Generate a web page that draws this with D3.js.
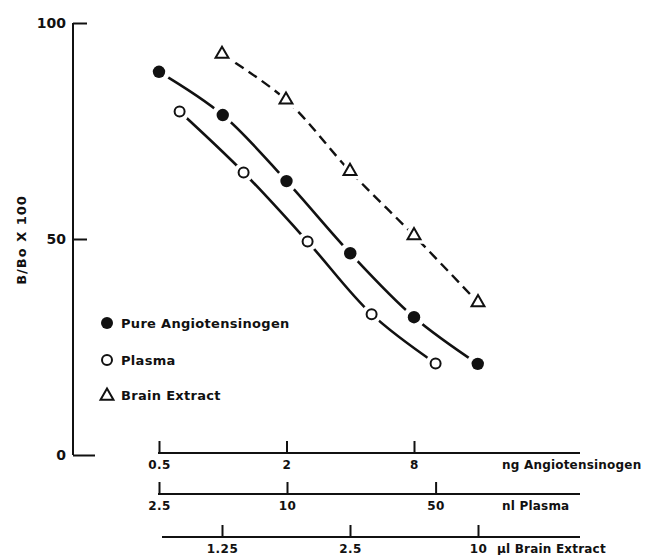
<!DOCTYPE html>
<html>
<head>
<meta charset="utf-8">
<script src="https://cdn.jsdelivr.net/npm/d3@7"></script>
<style>
  body { margin: 0; background: #fff; }
  text { font-family: "DejaVu Sans", sans-serif; font-weight: bold; fill: #111; }
</style>
</head>
<body>
<div id="chart"></div>
<script>
// data
const ngDose      = [0.5, 1, 2, 4, 8, 16];            // ng angiotensinogen
const pureValues  = [88.7, 78.7, 63.4, 46.7, 31.9, 21.1];
const plasmaDose  = [3.125, 6.25, 12.5, 25, 50];       // nl plasma
const plasmaValues = [79.5, 65.4, 49.4, 32.6, 21.2];
const brainDose   = [0.625, 1.25, 2.5, 5, 10];         // ul brain extract
const brainValues = [92.8, 82.2, 65.7, 50.8, 35.3];

const yTicks = [0, 50, 100];
const ngTicks = [0.5, 2, 8];
const plasmaTicks = [2.5, 10, 50];
const brainTicks = [0.625, 2.5, 10];
const brainTickLabels = ["1.25", "2.5", "10"];
const legendNames = ["Pure Angiotensinogen", "Plasma", "Brain Extract"];

// ----------------------------------------------------------

const width = 645;
const height = 555;

const svg = d3.select("#chart")
    .append("svg")
    .attr("width", width)
    .attr("height", height)

const y = d3.scaleLinear().domain([0, 100]).range([455, 23])
const xNg = d3.scaleLog().base(2).domain([0.5, 8]).range([159, 414])
const xPlasma = d3.scaleLog().base(2).domain([2.5, 10]).range([159, 287])
const xBrain = d3.scaleLog().base(2).domain([2.5, 10]).range([350, 478])
const lineEnd = 580

// y axis
const yAxisGroup = svg.append("g")
    .attr("transform", "translate(73,0)")
    .call(d3.axisRight(y).tickValues(yTicks).tickSize(14).tickSizeOuter(0).tickFormat(""))
yAxisGroup.selectAll("path, line").attr("stroke", "#111").attr("stroke-width", 2)
yAxisGroup.select(".domain").attr("d", `M0,${y(100)}V${y(0)}`)
// the zero tick runs a bit longer in the original
yAxisGroup.selectAll(".tick").filter(d => d === 0).select("line").attr("x2", 22)

svg.selectAll(".ylab")
    .data(yTicks)
    .join("text")
    .attr("x", 66)
    .attr("y", d => y(d))
    .attr("dy", "0.36em")
    .attr("text-anchor", "end")
    .attr("font-size", 14)
    .text(d => d)

svg.append("text")
    .attr("transform", "translate(26,240) rotate(-90)")
    .attr("text-anchor", "middle")
    .attr("font-size", 13)
    .attr("letter-spacing", 1)
    .text("B/Bo X 100")

// three bottom axes
function bottomAxis(scale, ticks, yPos, x0, labels, title, titleX) {
    const g = svg.append("g").attr("transform", `translate(0,${yPos})`)
    g.call(d3.axisBottom(scale).tickValues(ticks).tickSize(-12).tickPadding(7)
        .tickFormat((d, i) => labels ? labels[i] : d))
    g.select(".domain").remove()
    g.selectAll(".tick line").attr("stroke", "#111").attr("stroke-width", 2)
    g.selectAll(".tick text").attr("font-size", 12).attr("font-family", "DejaVu Sans")
        .attr("font-weight", "bold").attr("fill", "#111").attr("letter-spacing", 0.5)
    g.append("line")
        .attr("x1", x0).attr("x2", lineEnd)
        .attr("stroke", "#111").attr("stroke-width", 2)
    g.append("text")
        .attr("x", titleX).attr("y", 7).attr("dy", "0.71em")
        .attr("text-anchor", "start")
        .attr("font-size", 12)
        .attr("letter-spacing", 0.2)
        .text(title)
}
bottomAxis(xNg, ngTicks, 453, 158, null, "ng Angiotensinogen", 502)
bottomAxis(xPlasma, plasmaTicks, 494, 158, null, "nl Plasma", 502)
bottomAxis(xBrain, brainTicks, 537, 162, brainTickLabels, "µl Brain Extract", 497)

// curves
const pure = ngDose.map((d, i) => [xNg(d), y(pureValues[i])])
const plasma = plasmaDose.map((d, i) => [xPlasma(d), y(plasmaValues[i])])
const brain = brainDose.map((d, i) => [xBrain(d), y(brainValues[i])])

const line = d3.line().curve(d3.curveCatmullRom.alpha(0.5))

svg.append("path").attr("d", line(pure))
    .attr("fill", "none").attr("stroke", "#111").attr("stroke-width", 2.6)
svg.append("path").attr("d", line(plasma))
    .attr("fill", "none").attr("stroke", "#111").attr("stroke-width", 2.6)
svg.append("path").attr("d", line(brain))
    .attr("fill", "none").attr("stroke", "#111").attr("stroke-width", 2.4)
    .attr("stroke-dasharray", "10,6")

// markers with a white gap around them
const tri = d3.symbol().type(d3.symbolTriangle).size(72)

svg.append("g").selectAll("circle").data(pure).join("circle")
    .attr("cx", d => d[0]).attr("cy", d => d[1]).attr("r", 11).attr("fill", "#fff")
svg.append("g").selectAll("circle").data(pure).join("circle")
    .attr("cx", d => d[0]).attr("cy", d => d[1]).attr("r", 6.2).attr("fill", "#111")

svg.append("g").selectAll("circle").data(plasma).join("circle")
    .attr("cx", d => d[0]).attr("cy", d => d[1]).attr("r", 10).attr("fill", "#fff")
svg.append("g").selectAll("circle").data(plasma).join("circle")
    .attr("cx", d => d[0]).attr("cy", d => d[1]).attr("r", 5)
    .attr("fill", "#fff").attr("stroke", "#111").attr("stroke-width", 2)

svg.append("g").selectAll("path").data(brain).join("path")
    .attr("d", tri).attr("transform", d => `translate(${d[0]},${d[1]})`)
    .attr("fill", "#fff").attr("stroke", "#fff").attr("stroke-width", 9)
svg.append("g").selectAll("path").data(brain).join("path")
    .attr("d", tri).attr("transform", d => `translate(${d[0]},${d[1]})`)
    .attr("fill", "#fff").attr("stroke", "#111").attr("stroke-width", 2)

// legend
const legendY = [323, 360, 395]
const legend = svg.append("g")
legend.append("circle").attr("cx", 107).attr("cy", legendY[0]).attr("r", 6).attr("fill", "#111")
legend.append("circle").attr("cx", 107).attr("cy", legendY[1]).attr("r", 5)
    .attr("fill", "#fff").attr("stroke", "#111").attr("stroke-width", 2)
legend.append("path").attr("d", tri).attr("transform", `translate(107,${legendY[2] + 1})`)
    .attr("fill", "#fff").attr("stroke", "#111").attr("stroke-width", 2)
legend.selectAll("text")
    .data(legendNames)
    .join("text")
    .attr("x", 121)
    .attr("y", (d, i) => legendY[i])
    .attr("dy", "0.36em")
    .attr("font-size", 13)
    .attr("letter-spacing", 0.3)
    .text(d => d)
</script>
</body>
</html>
